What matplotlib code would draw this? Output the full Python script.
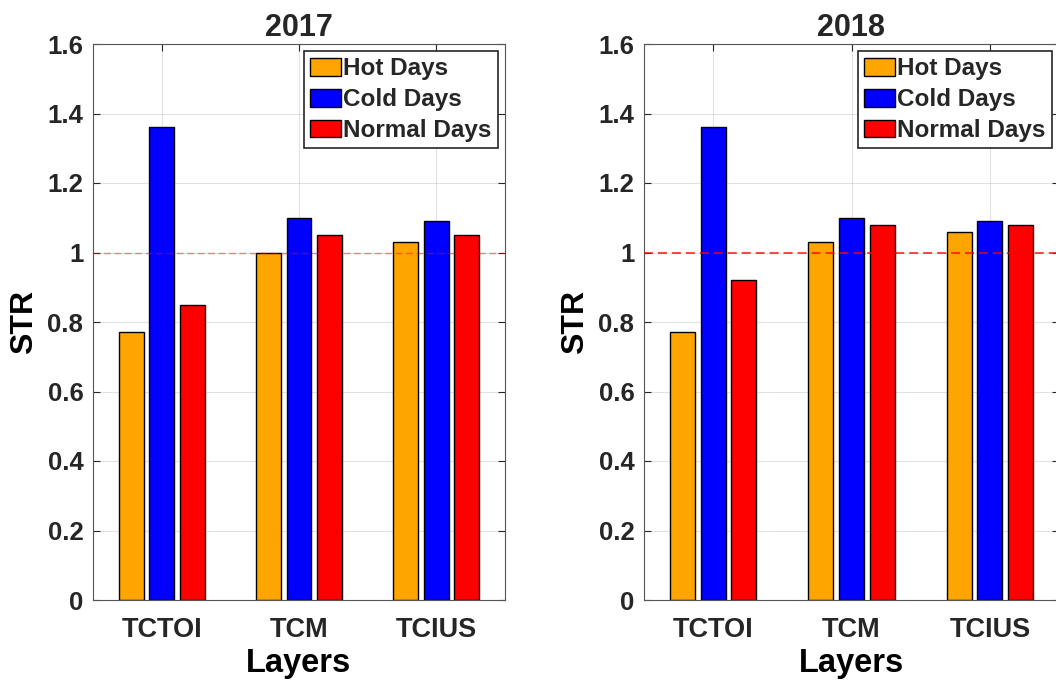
import numpy as np
import matplotlib.pyplot as plt

layers = ["TCTOI", "TCM", "TCIUS"]
series = ["Hot Days", "Cold Days", "Normal Days"]
colors = ["#FFA500", "#0000FF", "#FF0000"]

str_2017_hot = [0.77, 1.00, 1.03]
str_2017_cold = [1.36, 1.10, 1.09]
str_2017_normal = [0.85, 1.05, 1.05]

str_2018_hot = [0.77, 1.03, 1.06]
str_2018_cold = [1.36, 1.10, 1.09]
str_2018_normal = [0.92, 1.08, 1.08]

yticks = [0, 0.2, 0.4, 0.6, 0.8, 1, 1.2, 1.4, 1.6]
ytick_labels = ["0", "0.2", "0.4", "0.6", "0.8", "1", "1.2", "1.4", "1.6"]

plt.rcParams["font.family"] = ["Liberation Sans", "DejaVu Sans"]
plt.rcParams["font.weight"] = "bold"
plt.rcParams["text.color"] = "#262626"
plt.rcParams["xtick.color"] = "#262626"
plt.rcParams["ytick.color"] = "#262626"

fig = plt.figure(figsize=(10.56, 6.85), dpi=100)
ax1 = fig.add_axes([93 / 1056, 85 / 685, 412 / 1056, 556 / 685])
ax2 = fig.add_axes([644 / 1056, 85 / 685, 415 / 1056, 556 / 685])


def draw(ax, year, hot, cold, normal, ref_style):
    x = np.arange(1, len(layers) + 1)
    offsets = [-0.222, 0, 0.222]
    for vals, off, c, name in zip([hot, cold, normal], offsets, colors, series):
        ax.bar(x + off, vals, width=0.18, color=c, edgecolor="black",
               linewidth=1.0, label=name, zorder=2)
    ax.axhline(1, zorder=3, **ref_style)

    ax.set_xlim(0.5, 3.5)
    ax.set_ylim(0, 1.6)
    ax.set_xticks(x)
    ax.set_xticklabels(layers, fontsize=19.5, fontweight="bold")
    ax.set_yticks(yticks)
    ax.set_yticklabels(ytick_labels, fontsize=18.5, fontweight="bold")
    ax.tick_params(direction="in", length=5, width=0.8, top=True, right=True,
                   color="#262626")
    ax.tick_params(axis="x", pad=12)
    ax.tick_params(axis="y", pad=7)
    ax.grid(True, color="#262626", alpha=0.13, linewidth=0.8, zorder=0)
    ax.set_axisbelow(True)
    for s in ax.spines.values():
        s.set_color("#555555")
        s.set_linewidth(0.8)

    ax.set_title(year, fontsize=22, fontweight="bold", pad=6)
    ax.set_xlabel("Layers", fontsize=23.5, fontweight="bold", labelpad=4)
    ax.set_ylabel("STR", fontsize=23, fontweight="bold", labelpad=6)

    leg = ax.legend(loc="upper right", fontsize=17.5, frameon=True, fancybox=False,
                    edgecolor="#262626", framealpha=1, borderaxespad=0.3,
                    handlelength=1.25, handleheight=0.75, handletextpad=0.1,
                    labelspacing=0.32, borderpad=0.25)
    leg.get_frame().set_linewidth(1.2)


draw(ax1, "2017", str_2017_hot, str_2017_cold, str_2017_normal,
     dict(color="red", alpha=0.45, linewidth=1.0, linestyle=(0, (5, 2.5))))
draw(ax2, "2018", str_2018_hot, str_2018_cold, str_2018_normal,
     dict(color="red", alpha=0.7, linewidth=1.5, linestyle=(0, (4.3, 2.4))))

fig.savefig("out.png", dpi=100)
